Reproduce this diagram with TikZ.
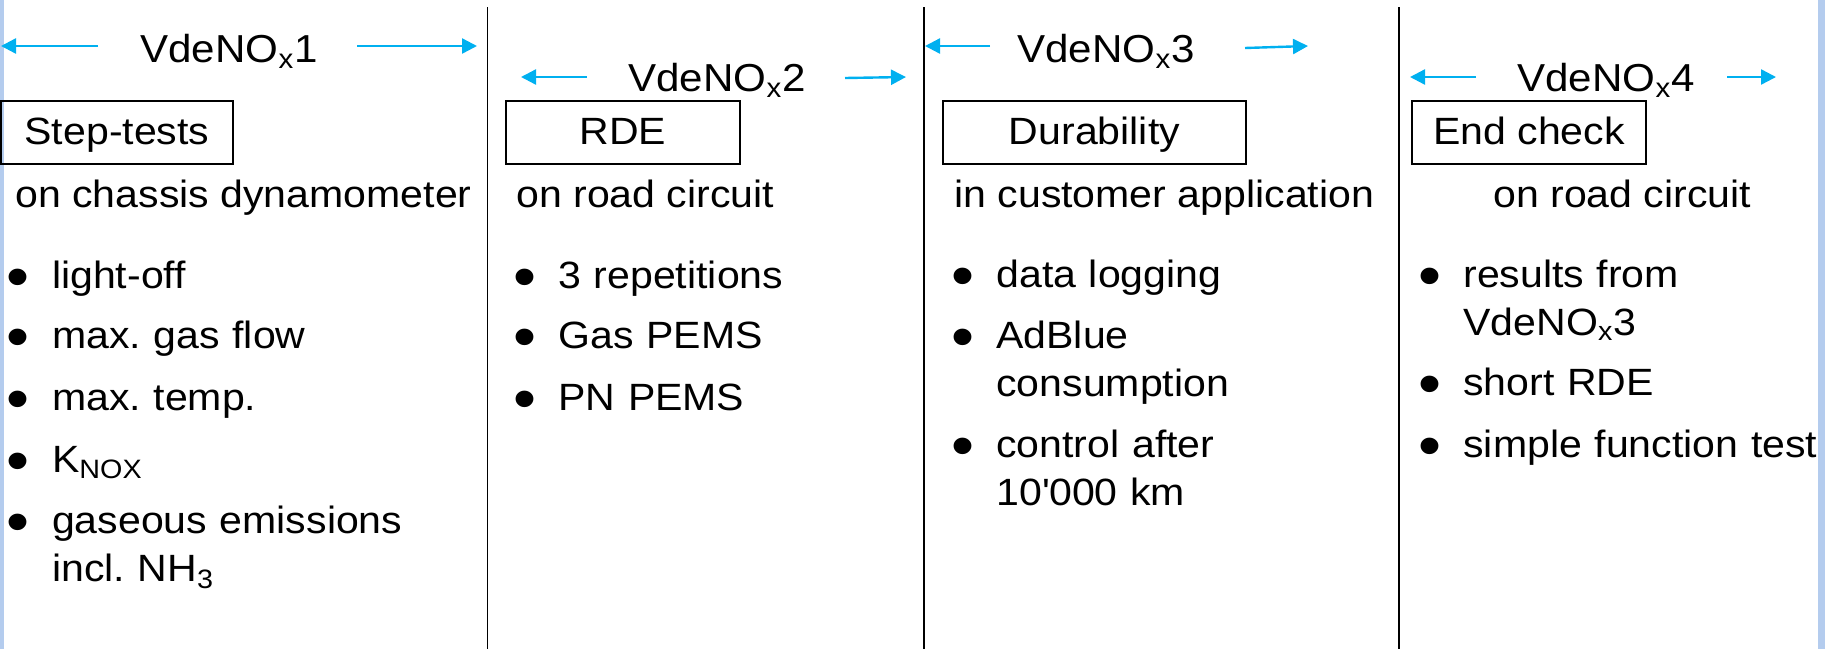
\documentclass[tikz,border=0pt]{standalone}
\usepackage{fontspec}
\setmainfont[FakeStretch=1.08]{Liberation Sans}
\usetikzlibrary{arrows.meta}

\definecolor{arrowblue}{RGB}{0,176,240}
\definecolor{edgeblue}{RGB}{180,204,238}

\newcommand{\bul}{\leavevmode\llap{\raisebox{-4.9pt}{\scalebox{1.6}{\textbullet}}\hspace{11.2pt}}}

\tikzstyle{block} = [rectangle, draw, line width=0.75pt, inner sep=0pt,
    minimum height=31.5pt, text height=14pt, text depth=2.5pt]
\tikzstyle{stage} = [anchor=base west, inner sep=0pt, font=\fontsize{19.5}{24}\selectfont]
\tikzstyle{where} = [anchor=base west, inner sep=0pt]
\tikzstyle{entry} = [anchor=base west, inner sep=0pt, text width=180pt, align=left]
\tikzstyle{line} = [draw, arrowblue, line width=1.2pt, -{Triangle[length=7.5pt,width=7.5pt]}]

\begin{document}
\frenchspacing
\begin{tikzpicture}[x=0.5pt, y=-0.5pt, font=\fontsize{19}{24.25}\selectfont\frenchspacing]
    \useasboundingbox (0,0) rectangle (1825,649);
    \fill [edgeblue] (0,0) rectangle (4,649);
    \fill [edgeblue] (1818,0) rectangle (1825,649);
    \foreach \x in {487.5, 924, 1399}
        \draw [line width=0.75pt] (\x,7) -- (\x,649);

    \node [stage] (V1) at (140,62) {VdeNO\textsubscript{x}1};
    \node [stage] (V2) at (628,91) {VdeNO\textsubscript{x}2};
    \node [stage] (V3) at (1017,62) {VdeNO\textsubscript{x}3};
    \node [stage] (V4) at (1517,91) {VdeNO\textsubscript{x}4};

    \coordinate (V1a) at (98,46);    \coordinate (V1b) at (1,46);
    \coordinate (V1c) at (357,46);   \coordinate (V1d) at (477,46);
    \coordinate (V2a) at (587,77);   \coordinate (V2b) at (521,77);
    \coordinate (V2c) at (845,78);   \coordinate (V2d) at (906,77);
    \coordinate (V3a) at (990,46);   \coordinate (V3b) at (925,46);
    \coordinate (V3c) at (1245,48);  \coordinate (V3d) at (1308,46);
    \coordinate (V4a) at (1476,77);  \coordinate (V4b) at (1410,77);
    \coordinate (V4c) at (1727,77);  \coordinate (V4d) at (1776,77);
    \path [line] (V1a) -- (V1b);
    \path [line] (V1c) -- (V1d);
    \path [line] (V2a) -- (V2b);
    \path [line] (V2c) -- (V2d);
    \path [line] (V3a) -- (V3b);
    \path [line] (V3c) -- (V3d);
    \path [line] (V4a) -- (V4b);
    \path [line] (V4c) -- (V4d);

    \node [block, minimum width=116pt] (Step) at (117,132.5) {Step-tests};
    \node [block, minimum width=117pt] (RDE) at (623,132.5) {RDE};
    \node [block, minimum width=151.5pt] (Durability) at (1094.5,132.5) {Durability};
    \node [block, minimum width=117pt] (EndCheck) at (1529,132.5) {End check};

    \node [where] (Chassis) at (15,207) {on chassis dynamometer};
    \node [where] (Road) at (516,207) {on road circuit};
    \node [where] (Customer) at (954,207) {in customer application};
    \node [where] (RoadEnd) at (1493,207) {on road circuit};

    \node [entry] (LightOff) at (51.7,288) {\bul light-off};
    \node [entry] (GasFlow) at (51.7,348) {\bul max. gas flow};
    \node [entry] (Temp) at (51.7,410) {\bul max. temp.};
    \node [entry] (Knox) at (51.7,472) {\bul K\textsubscript{NOX}};
    \node [entry] (Gaseous) at (51.7,533) {\bul gaseous emissions\\incl. NH\textsubscript{3}};

    \node [entry] (Repetitions) at (558,288) {\bul 3 repetitions};
    \node [entry] (GasPems) at (558,348) {\bul Gas PEMS};
    \node [entry] (PnPems) at (558,410) {\bul PN PEMS};

    \node [entry] (Logging) at (996,287) {\bul data logging};
    \node [entry] (AdBlue) at (996,348) {\bul AdBlue\\consumption};
    \node [entry] (Control) at (996,457) {\bul control after\\10\textquotesingle 000 km};

    \node [entry] (Results) at (1463,287) {\bul results from\\VdeNO\textsubscript{x}3};
    \node [entry] (ShortRde) at (1463,395) {\bul short RDE};
    \node [entry] (Function) at (1463,457) {\bul simple function test};
\end{tikzpicture}
\end{document}
